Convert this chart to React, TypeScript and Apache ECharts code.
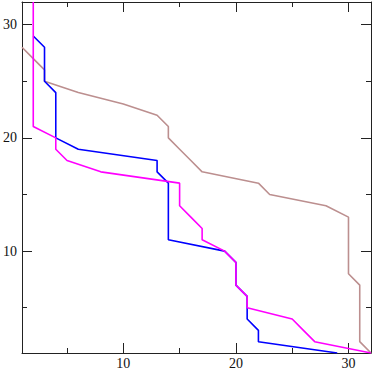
import React, { useEffect, useRef } from "react";
import * as echarts from "echarts";

// Ranks (y) and positions (x) of each series
const brownY = [28, 27, 26, 25, 24, 23, 22, 21, 20, 19, 18, 17, 16, 15, 14, 13, 12, 11, 10, 9, 8, 7, 6, 5, 4, 3, 2, 1];
const brownX = [1, 2, 3, 3, 6, 10, 13, 14, 14, 15, 16, 17, 22, 23, 28, 30, 30, 30, 30, 30, 30, 31, 31, 31, 31, 31, 31, 32];

const blueY = [29, 28, 27, 26, 25, 24, 23, 22, 21, 20, 19, 18, 17, 16, 15, 14, 13, 12, 11, 10, 9, 8, 7, 6, 5, 4, 3, 2, 1];
const blueX = [2, 3, 3, 3, 3, 4, 4, 4, 4, 4, 6, 13, 13, 14, 14, 14, 14, 14, 14, 19, 20, 20, 20, 21, 21, 21, 22, 22, 29];

const magentaY = [32, 31, 30, 29, 28, 27, 26, 25, 24, 23, 22, 21, 20, 19, 18, 17, 16, 15, 14, 13, 12, 11, 10, 9, 8, 7, 6, 5, 4, 3, 2, 1];
const magentaX = [2, 2, 2, 2, 2, 2, 2, 2, 2, 2, 2, 2, 4, 4, 5, 8, 15, 15, 15, 16, 17, 17, 19, 20, 20, 20, 21, 21, 25, 26, 27, 32];

const majorTicks = [10, 20, 30];
const minorTicks = [5, 15, 25];
const axisMin = 1;
const axisMax = 32;

const pairs = (xs: number[], ys: number[]) => xs.map((x, i) => [x, ys[i]]);

const AXIS_COLOR = "#222";
const FONT = "'Liberation Serif', 'Times New Roman', serif";

function makeAxis(position: string, major: boolean, showLine: boolean, showLabel: boolean, isX: boolean) {
  return {
    type: "value",
    position,
    min: axisMin,
    max: axisMax,
    axisLine: { show: showLine, onZero: false, lineStyle: { color: AXIS_COLOR, width: 1 } },
    axisTick: {
      show: true,
      inside: true,
      length: major ? 10 : 5,
      customValues: major ? majorTicks : minorTicks,
      lineStyle: { color: AXIS_COLOR, width: 1 },
    },
    axisLabel: {
      show: showLabel,
      customValues: majorTicks,
      margin: isX ? 3 : 5,
      color: "#111",
      fontFamily: FONT,
      fontSize: 14,
    },
    splitLine: { show: false },
  };
}

export default function App() {
  const ref = useRef<HTMLDivElement>(null);
  useEffect(() => {
    if (!ref.current) return;
    const chart = echarts.init(ref.current, null, { renderer: "svg" });
    chart.setOption({
      animation: false,
      grid: { left: 20, right: 3, top: 2, bottom: 17, containLabel: false },
      xAxis: [
        makeAxis("bottom", true, true, true, true),
        makeAxis("bottom", false, false, false, true),
        makeAxis("top", true, true, false, true),
        makeAxis("top", false, false, false, true),
      ],
      yAxis: [
        makeAxis("left", true, true, true, false),
        makeAxis("left", false, false, false, false),
        makeAxis("right", true, true, false, false),
        makeAxis("right", false, false, false, false),
      ],
      series: [
        {
          type: "line",
          data: pairs(brownX, brownY),
          symbol: "none",
          lineStyle: { color: "#bc8f8f", width: 1.6 },
          xAxisIndex: 0,
          yAxisIndex: 0,
        },
        {
          type: "line",
          data: pairs(blueX, blueY),
          symbol: "none",
          lineStyle: { color: "#0000ff", width: 1.6 },
          xAxisIndex: 0,
          yAxisIndex: 0,
        },
        {
          type: "line",
          data: pairs(magentaX, magentaY),
          symbol: "none",
          lineStyle: { color: "#ff00ff", width: 1.6 },
          xAxisIndex: 0,
          yAxisIndex: 0,
        },
      ],
    });
    return () => chart.dispose();
  }, []);
  return (
    <div
      ref={ref}
      style={{ position: "absolute", left: 0, top: 0, width: 374, height: 370, background: "#fff" }}
    />
  );
}
